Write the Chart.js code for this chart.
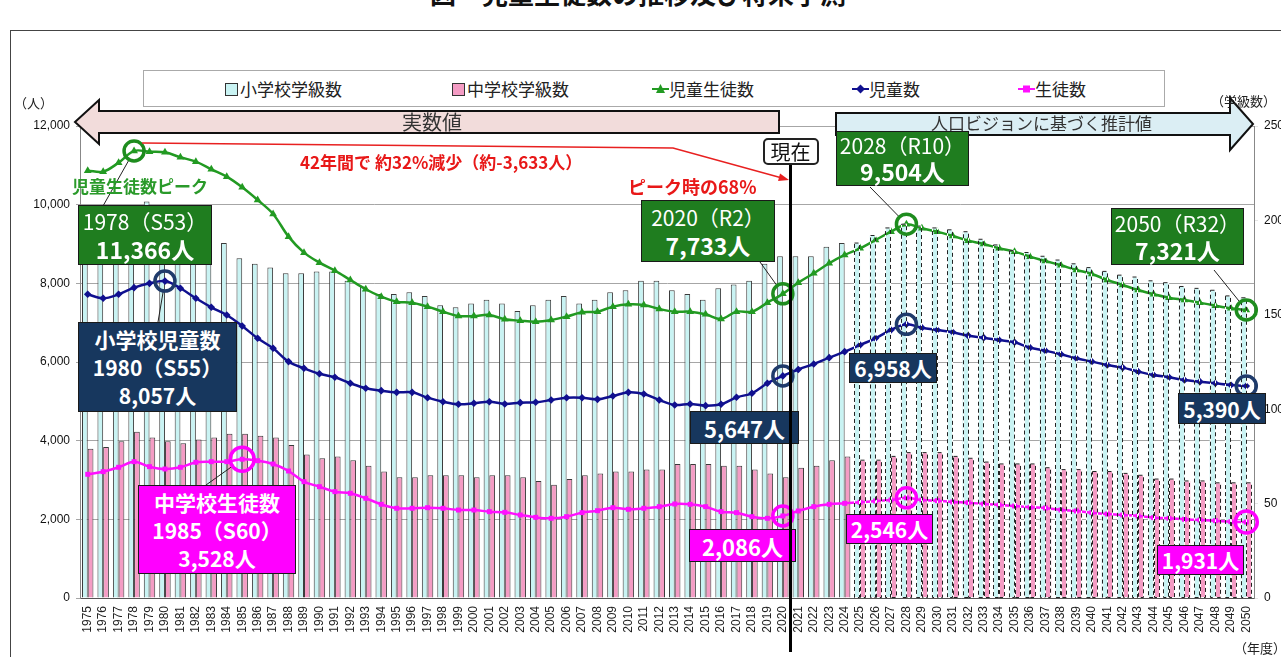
<!DOCTYPE html>
<html lang="ja">
<head>
<meta charset="utf-8">
<title>児童生徒数の推移及び将来予測</title>
<script src="https://cdn.jsdelivr.net/npm/chart.js@4.4.1/dist/chart.umd.min.js"></script>
<style>
  html, body { margin: 0; padding: 0; background: #fff; }
  body { width: 1281px; height: 657px; position: relative; overflow: hidden; font-family: "Noto Sans CJK JP", sans-serif; }
  #myChart { position: absolute; left: 0; top: 0; }
  .abs { position: absolute; white-space: nowrap; }
  .frame { position: absolute; left: 10px; top: 30px; width: 1400px; height: 800px; border: 1px solid #444; }
  .title { position: absolute; left: 430px; top: -20px; font-size: 26px; font-weight: bold; line-height: 26px; color: #111; }
  .legend { position: absolute; left: 143px; top: 70px; width: 1022px; height: 37px; border: 1px solid #aaa; box-sizing: border-box; background: #fff; }
  .legend .item { position: absolute; top: 7px; font-size: 17px; line-height: 22px; color: #222; display: flex; align-items: center; }
  .sq { display: inline-block; width: 11px; height: 11px; border: 1px solid #333; margin-right: 2px; }
  .box { position: absolute; color: #fff; text-align: center; border: 1px solid #1a1a1a; box-sizing: border-box; white-space: nowrap;
         display: flex; flex-direction: column; justify-content: center; align-items: center; font-weight: bold; z-index: 2; }
  .green { background: #1f7d1f; }
  .navy { background: #17375e; }
  .mag { background: #ff00ff; }
  .thin { font-weight: normal; }
  .red { position: absolute; color: #e81818; font-weight: bold; white-space: nowrap; }
  .nowline { position: absolute; width: 3px; background: #000; z-index: 3; }
  .nowbox { position: absolute; background: #fff; border: 2px solid #222; border-radius: 5px; font-size: 20px; line-height: 23px; padding: 0 6px; z-index: 3; color: #111; }
</style>
</head>
<body>
<div class="title">図　児童生徒数の推移及び将来予測</div>
<div class="frame"></div>
<canvas id="myChart" width="1281" height="657"></canvas>

<div class="legend">
  <div class="item" style="left:81px"><span class="sq" style="background:#c9f3f3"></span>小学校学級数</div>
  <div class="item" style="left:308px"><span class="sq" style="background:#f49cc4"></span>中学校学級数</div>
  <div class="item" style="left:508px"><svg width="17" height="12"><line x1="0" y1="6" x2="17" y2="6" stroke="#229a22" stroke-width="2"/><polygon points="8.5,1 13,10 4,10" fill="#229a22"/></svg>児童生徒数</div>
  <div class="item" style="left:708px"><svg width="17" height="12"><line x1="0" y1="6" x2="17" y2="6" stroke="#10108f" stroke-width="2"/><polygon points="8.5,1.5 13,6 8.5,10.5 4,6" fill="#10108f"/></svg>児童数</div>
  <div class="item" style="left:874px"><svg width="17" height="12"><line x1="0" y1="6" x2="17" y2="6" stroke="#ff10ff" stroke-width="2"/><rect x="5" y="2.5" width="7" height="7" fill="#ff10ff"/></svg>生徒数</div>
</div>

<div class="abs" style="left:14px;top:93px;font-size:13px;color:#222">（人）</div>
<div class="abs" style="left:1211px;top:91px;font-size:13px;color:#222">（学級数）</div>
<div class="abs" style="left:1234px;top:638px;font-size:13px;color:#222">（年度）</div>

<div class="abs" style="left:402px;top:109px;font-size:20px;line-height:26px;color:#333">実数値</div>
<div class="abs" style="left:931px;top:111px;font-size:17px;line-height:24px;color:#333">人口ビジョンに基づく推計値</div>

<div class="red" style="left:300px;top:150px;font-size:17px;line-height:24px">42年間で 約32%減少（約-3,633人）</div>
<div class="red" style="left:628px;top:174px;font-size:18px;line-height:24px">ピーク時の68%</div>
<div class="abs" style="left:72px;top:174px;font-size:17px;line-height:24px;font-weight:bold;color:#2a9a2a">児童生徒数ピーク</div>

<div class="box green" style="left:78px;top:205px;width:134px;height:60px">
  <div class="thin" style="font-size:21px;line-height:27px">1978（S53）</div>
  <div style="font-size:23px;line-height:28px">11,366人</div>
</div>
<div class="box navy" style="left:78px;top:322px;width:159px;height:90px;font-size:21px;line-height:28px">
  <div>小学校児童数</div><div>1980（S55）</div><div>8,057人</div>
</div>
<div class="box mag" style="left:138px;top:485px;width:158px;height:89px;font-size:21px;line-height:28px">
  <div>中学校生徒数</div><div>1985（S60）</div><div>3,528人</div>
</div>
<div class="box green" style="left:641px;top:200px;width:134px;height:62px">
  <div class="thin" style="font-size:21px;line-height:28px">2020（R2）</div>
  <div style="font-size:23px;line-height:28px">7,733人</div>
</div>
<div class="box navy" style="left:690px;top:411px;width:109px;height:33px;font-size:22px;line-height:30px">5,647人</div>
<div class="box mag" style="left:689px;top:529px;width:107px;height:33px;font-size:22px;line-height:30px">2,086人</div>
<div class="box green" style="left:836px;top:131px;width:133px;height:55px">
  <div class="thin" style="font-size:21px;line-height:25px">2028（R10）</div>
  <div style="font-size:23px;line-height:27px">9,504人</div>
</div>
<div class="box navy" style="left:849px;top:353px;width:88px;height:30px;font-size:21px;line-height:28px">6,958人</div>
<div class="box mag" style="left:846px;top:514px;width:87px;height:30px;font-size:21px;line-height:28px">2,546人</div>
<div class="box green" style="left:1111px;top:208px;width:133px;height:57px">
  <div class="thin" style="font-size:21px;line-height:26px">2050（R32）</div>
  <div style="font-size:23px;line-height:28px">7,321人</div>
</div>
<div class="box navy" style="left:1178px;top:393px;width:88px;height:31px;font-size:21px;line-height:28px">5,390人</div>
<div class="box mag" style="left:1157px;top:545px;width:87px;height:30px;font-size:21px;line-height:28px">1,931人</div>

<div class="nowline" id="nowLine"></div>
<div class="nowbox" id="nowBox">現在</div>

<script>
// 年度
const years = ['1975','1976','1977','1978','1979','1980','1981','1982','1983','1984',
  '1985','1986','1987','1988','1989','1990','1991','1992','1993','1994',
  '1995','1996','1997','1998','1999','2000','2001','2002','2003','2004',
  '2005','2006','2007','2008','2009','2010','2011','2012','2013','2014',
  '2015','2016','2017','2018','2019','2020','2021','2022','2023','2024',
  '2025','2026','2027','2028','2029','2030','2031','2032','2033','2034',
  '2035','2036','2037','2038','2039','2040','2041','2042','2043','2044',
  '2045','2046','2047','2048','2049','2050'];

// 小学校学級数 (right axis)
const elemClasses = [208,202,203,205,210,208,205,200,194,188,
  180,177,175,172,172,173,173,168,165,161,
  161,162,160,155,154,156,158,156,152,155,
  158,160,156,158,162,163,168,168,163,161,
  158,164,166,168,177,181,181,181,186,188,
  188,192,196,198,197,196,195,194,190,187,
  184,183,181,179,177,175,173,171,170,168,
  167,165,164,163,160,159];

// 中学校学級数 (right axis)
const juniorClasses = [79,80,83,88,85,83,82,84,85,87,
  87,86,85,81,76,74,75,73,70,67,
  64,64,65,65,65,64,65,65,64,62,
  60,63,65,66,67,67,68,68,71,71,
  71,70,70,68,66,64,69,70,73,75,
  73,73,75,77,77,77,75,74,72,71,
  71,71,69,68,68,67,67,66,65,63,
  63,62,62,61,61,61];

// 児童生徒数
const totalStudents = [10865,10840,11068,11366,11348,11332,11205,11094,10900,10712,
  10442,10120,9764,9187,8780,8526,8322,8085,7849,7661,
  7534,7509,7407,7280,7170,7170,7196,7086,7051,7026,
  7068,7153,7263,7280,7407,7467,7450,7348,7280,7280,
  7213,7094,7280,7280,7509,7733,8017,8255,8510,8721,
  8891,9102,9314,9504,9399,9314,9204,9085,9001,8891,
  8806,8679,8569,8458,8340,8238,8085,7958,7831,7722,
  7636,7577,7509,7433,7365,7321];

// 児童数
const elemStudents = [7721,7620,7721,7890,8000,8057,7875,7620,7391,7196,
  6916,6603,6349,6010,5840,5700,5611,5459,5331,5271,
  5229,5229,5093,4991,4925,4950,4991,4933,4966,4975,
  5034,5093,5093,5051,5136,5229,5187,5034,4907,4933,
  4890,4925,5102,5204,5459,5647,5810,5950,6110,6263,
  6433,6603,6814,6958,6873,6814,6755,6670,6619,6560,
  6501,6365,6289,6196,6094,6010,5924,5857,5755,5670,
  5611,5543,5500,5459,5416,5390];

// 生徒数
const juniorStudents = [3145,3212,3323,3466,3339,3280,3323,3450,3466,3466,
  3528,3491,3407,3229,2957,2830,2703,2662,2535,2382,
  2281,2281,2296,2281,2237,2237,2195,2178,2110,2051,
  2026,2068,2170,2220,2296,2255,2281,2322,2390,2382,
  2322,2195,2170,2068,2026,2086,2212,2322,2382,2407,
  2433,2466,2492,2546,2492,2475,2441,2424,2390,2365,
  2339,2305,2288,2237,2212,2170,2136,2110,2085,2043,
  2026,2001,1983,1966,1940,1931];

const FIRST_ESTIMATE = 50; // 2025 onwards drawn with dashed outline
const NOW_INDEX = 45;      // 2020

// circles on highlighted points: [datasetIndex, dataIndex, colour, radius]
const marks = [
  [0, 3, '#1e8c1e', 10], [0, 45, '#1e8c1e', 10], [0, 53, '#1e8c1e', 10], [0, 75, '#1e8c1e', 10],
  [1, 5, '#1f3b6b', 10], [1, 45, '#1f3b6b', 10], [1, 53, '#1f3b6b', 10], [1, 75, '#1f3b6b', 10],
  [2, 10, '#ff00ff', 12], [2, 45, '#ff00ff', 10], [2, 53, '#ff00ff', 10], [2, 75, '#ff00ff', 11]
];
// leader lines from label boxes: [box x, box y, datasetIndex, dataIndex]
const leaders = [
  [103, 206, 0, 3], [158, 322, 1, 5], [206, 485, 2, 10],
  [760, 262, 0, 45], [870, 187, 0, 53], [1214, 270, 0, 75]
];

const decor = {
  id: 'decor',
  afterDatasetsDraw(chart) {
    const c = chart.ctx;
    c.save();
    // dashed outline for estimated bars
    [3, 4].forEach(di => {
      chart.getDatasetMeta(di).data.forEach((bar, i) => {
        if (i < FIRST_ESTIMATE) return;
        const x0 = Math.round(bar.x - bar.width / 2) + 0.5;
        const w = Math.round(bar.width) - 1;
        const h = bar.base - bar.y;
        c.lineWidth = 1;
        c.setLineDash([]);
        c.strokeStyle = '#fff';
        c.strokeRect(x0, bar.y, w, h);
        c.setLineDash([4, 3]);
        c.strokeStyle = '#222';
        c.strokeRect(x0, bar.y, w, h);
      });
    });
    c.setLineDash([]);

    // leader lines
    c.strokeStyle = '#222';
    c.lineWidth = 1;
    leaders.forEach(([bx, by, di, i]) => {
      const p = chart.getDatasetMeta(di).data[i];
      const dx = p.x - bx, dy = p.y - by, d = Math.hypot(dx, dy);
      c.beginPath();
      c.moveTo(bx, by);
      c.lineTo(p.x - dx / d * 10, p.y - dy / d * 10);
      c.stroke();
    });

    // circles
    marks.forEach(([di, i, col, r]) => {
      const p = chart.getDatasetMeta(di).data[i];
      c.strokeStyle = col;
      c.lineWidth = 3.5;
      c.beginPath();
      c.arc(p.x, p.y, r, 0, Math.PI * 2);
      c.stroke();
    });

    // block arrows
    c.lineWidth = 2;
    c.strokeStyle = '#111';
    c.fillStyle = '#f2dcdb';
    c.beginPath();
    c.moveTo(75, 122); c.lineTo(99, 100); c.lineTo(99, 111); c.lineTo(779, 111);
    c.lineTo(779, 133); c.lineTo(99, 133); c.lineTo(99, 144); c.closePath();
    c.fill(); c.stroke();
    c.fillStyle = '#dbeef4';
    c.beginPath();
    c.moveTo(836, 113); c.lineTo(1230, 113); c.lineTo(1230, 98); c.lineTo(1253, 124);
    c.lineTo(1230, 150); c.lineTo(1230, 135); c.lineTo(836, 135); c.closePath();
    c.fill(); c.stroke();

    // red decrease line
    const peak = chart.getDatasetMeta(0).data[3];
    c.strokeStyle = '#e82020';
    c.fillStyle = '#e82020';
    c.lineWidth = 1.5;
    c.beginPath();
    c.moveTo(peak.x + 8, peak.y - 8);
    c.lineTo(673, 148);
    c.lineTo(782, 178);
    c.stroke();
    const ang = Math.atan2(178 - 148, 782 - 673);
    c.beginPath();
    c.moveTo(789, 180);
    c.lineTo(789 - 11 * Math.cos(ang - 0.35), 180 - 11 * Math.sin(ang - 0.35));
    c.lineTo(789 - 11 * Math.cos(ang + 0.35), 180 - 11 * Math.sin(ang + 0.35));
    c.closePath();
    c.fill();
    c.restore();
  }
};

const tickFont = { family: 'Liberation Sans', size: 12 };

const chart = new Chart(document.getElementById('myChart'), {
  type: 'bar',
  data: {
    labels: years,
    datasets: [
      { type: 'line', label: '児童生徒数', data: totalStudents, yAxisID: 'y', order: 1,
        borderColor: '#229a22', backgroundColor: '#229a22', borderWidth: 2.5, tension: 0.35,
        pointStyle: 'triangle', pointRadius: 4.5, pointBorderWidth: 0 },
      { type: 'line', label: '児童数', data: elemStudents, yAxisID: 'y', order: 1,
        borderColor: '#10108f', backgroundColor: '#10108f', borderWidth: 2.5, tension: 0.35,
        pointStyle: 'rectRot', pointRadius: 3.8, pointBorderWidth: 0 },
      { type: 'line', label: '生徒数', data: juniorStudents, yAxisID: 'y', order: 1,
        borderColor: '#ff10ff', backgroundColor: '#ff10ff', borderWidth: 2.5, tension: 0.35,
        pointStyle: 'rect', pointRadius: 3.5, pointBorderWidth: 0 },
      { type: 'bar', label: '小学校学級数', data: elemClasses, yAxisID: 'y2', order: 2,
        backgroundColor: '#c9f3f3', borderColor: '#3a3a3a',
        borderWidth: ctx => ctx.dataIndex < FIRST_ESTIMATE ? 1 : 0,
        categoryPercentage: 0.74, barPercentage: 1.0 },
      { type: 'bar', label: '中学校学級数', data: juniorClasses, yAxisID: 'y2', order: 2,
        backgroundColor: '#f49cc4', borderColor: '#3a3a3a',
        borderWidth: ctx => ctx.dataIndex < FIRST_ESTIMATE ? 1 : 0,
        categoryPercentage: 0.74, barPercentage: 1.0 }
    ]
  },
  options: {
    responsive: false,
    animation: false,
    devicePixelRatio: 1,
    layout: { padding: { top: 126, left: 0, right: 0, bottom: 0 } },
    plugins: { legend: { display: false }, tooltip: { enabled: false } },
    scales: {
      x: {
        offset: true,
        grid: { display: false, drawTicks: false },
        border: { color: '#555' },
        ticks: { autoSkip: false, maxRotation: 90, minRotation: 90, font: tickFont, color: '#222', padding: 8 },
        afterFit(s) { s.height = 59; s.paddingLeft = 0; s.paddingRight = 0; }
      },
      y: {
        position: 'left', min: 0, max: 12000,
        ticks: { stepSize: 2000, font: tickFont, color: '#111', padding: 6,
                 callback: v => v.toLocaleString('en-US') },
        grid: { color: '#a6a6a6', tickLength: 4 },
        border: { color: '#888' },
        afterFit(s) { s.width = 80; s.paddingTop = 0; s.paddingBottom = 0; }
      },
      y2: {
        position: 'right', min: 0, max: 250,
        ticks: { stepSize: 50, font: tickFont, color: '#111', padding: 6 },
        grid: { drawOnChartArea: false, tickLength: 4 },
        border: { color: '#888' },
        afterFit(s) { s.width = 27; s.paddingTop = 0; s.paddingBottom = 0; }
      }
    }
  },
  plugins: [decor]
});

// 現在 line between 2020 and 2021
const xs = chart.scales.x;
const nowX = (xs.getPixelForValue(NOW_INDEX) + xs.getPixelForValue(NOW_INDEX + 1)) / 2;
const nowLine = document.getElementById('nowLine');
nowLine.style.left = (nowX - 1.5) + 'px';
nowLine.style.top = '164px';
nowLine.style.height = '488px';
const nowBox = document.getElementById('nowBox');
nowBox.style.left = (nowX - nowBox.offsetWidth / 2) + 'px';
nowBox.style.top = '138px';
</script>
</body>
</html>
